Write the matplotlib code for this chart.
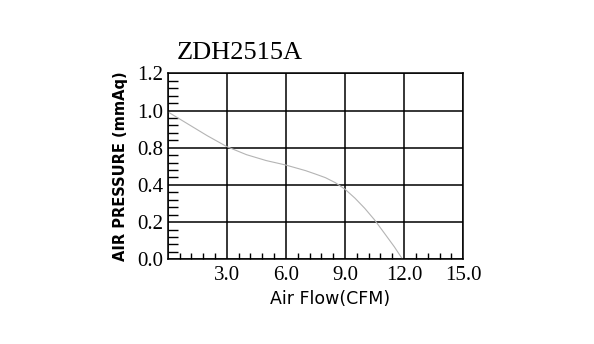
import matplotlib
matplotlib.use('Agg')
import matplotlib.pyplot as plt
import matplotlib.ticker as ticker

# fan curve, y in axis units (grid rows of 0.24)
flow = [0.0, 1.0, 2.0, 3.0, 4.0, 5.0, 6.0, 7.0, 7.5, 8.0, 8.5, 9.0, 9.5,
        10.0, 10.5, 11.0, 11.5, 11.92]
pressure = [0.952, 0.875, 0.798, 0.727, 0.675, 0.637, 0.608, 0.572, 0.55,
            0.527, 0.495, 0.452, 0.395, 0.329, 0.254, 0.168, 0.081, 0.0]

x_ticks = [0, 3, 6, 9, 12, 15]
x_labels = ['', '3.0', '6.0', '9.0', '12.0', '15.0']
y_ticks = [0, 0.24, 0.48, 0.72, 0.96, 1.2]
y_labels = ['0.0', '0.2', '0.4', '0.8', '1.0', '1.2']

fig = plt.figure(figsize=(5.94, 3.44), dpi=100)
ax = fig.add_axes([0.2823, 0.2462, 0.4976, 0.5407])

ax.plot(flow, pressure, color='#b4b4b4', linewidth=0.8)

ax.set_xlim(0, 15)
ax.set_ylim(0, 1.2)
ax.xaxis.set_major_locator(ticker.FixedLocator(x_ticks))
ax.yaxis.set_major_locator(ticker.FixedLocator(y_ticks))
ax.set_xticklabels(x_labels, fontfamily='Liberation Serif', fontsize=15)
ax.set_yticklabels(y_labels, fontfamily='Liberation Serif', fontsize=15)
ax.xaxis.set_minor_locator(ticker.MultipleLocator(0.6))
ax.yaxis.set_minor_locator(ticker.MultipleLocator(0.048))

ax.grid(True, which='major', color='black', linewidth=1.1)
ax.tick_params(axis='x', which='major', length=0, pad=5)
ax.tick_params(axis='y', which='major', length=0, pad=3)
ax.tick_params(axis='y', which='minor', direction='in', length=7, width=1.0)
ax.tick_params(axis='x', which='minor', direction='in', length=4, width=1.0)
for sp in ax.spines.values():
    sp.set_linewidth(1.1)

ax.set_xlabel('Air Flow(CFM)', fontfamily='DejaVu Sans', fontsize=12.5)
ax.xaxis.set_label_coords(0.549, -0.165)
ax.set_ylabel('AIR PRESSURE (mmAq)', fontfamily='DejaVu Sans',
              fontsize=10.5, fontweight='bold', labelpad=7)

fig.text(0.298, 0.828, 'ZDH2515A', fontfamily='Liberation Serif', fontsize=19)

fig.savefig('out.png', dpi=100)
